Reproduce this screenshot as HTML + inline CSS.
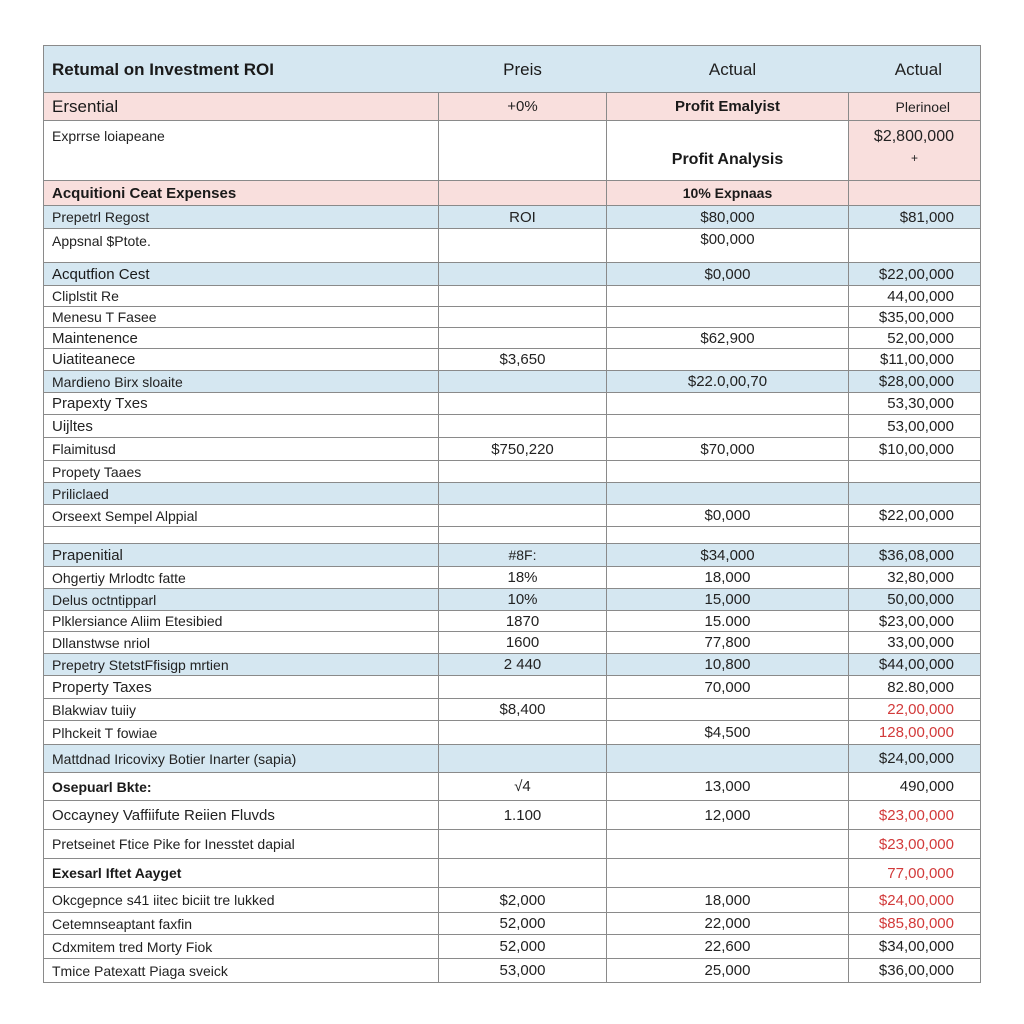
<!DOCTYPE html>
<html><head><meta charset="utf-8"><style>
html,body{margin:0;padding:0;background:#fff;width:1024px;height:1024px;overflow:hidden}
table{position:absolute;left:43px;top:45px;border-collapse:collapse;table-layout:fixed;font-family:"Liberation Sans",sans-serif;font-size:15px;color:#222}
td{border:1px solid #8a8a8a;padding:0;white-space:nowrap;overflow:hidden;line-height:1}
td.a{padding-left:8px;text-align:left}
td.b{text-align:center}
td.c{text-align:center}
td.d{text-align:right;padding-right:26px}
tr.bl td{background:#d5e7f1}
tr.pk td{background:#f9dfdd}
.h td{background:#d5e7f1;font-size:17px;border-left:none;border-right:none}
.h td:first-child{border-left:1px solid #8a8a8a}
.h td:last-child{border-right:1px solid #8a8a8a}
.bo{font-weight:bold;color:#1a1a1a}
.r{color:#d23a3a}
.s{font-size:14px}
</style></head><body>
<table>
<colgroup><col style="width:395px"><col style="width:168px"><col style="width:242px"><col style="width:132px"></colgroup>
<tr class="h" style="height:47px"><td class="a bo">Retumal on Investment ROI</td><td class="b bo" style="font-weight:normal">Preis</td><td class="c" style="padding-left:10px">Actual</td><td class="d" style="padding-right:38px">Actual</td></tr>
<tr class="pk" style="height:28px"><td class="a bo" style="font-size:17px;font-weight:normal">Ersential</td><td class="b">+0%</td><td class="c bo">Profit Emalyist</td><td class="d s" style="padding-right:30px;vertical-align:middle">Plerinoel</td></tr>
<tr style="height:60px"><td class="a s" style="vertical-align:top;padding-top:8px">Exprrse loiapeane</td><td class="b"></td><td class="c bo" style="font-size:16px;vertical-align:bottom;padding-bottom:12px">Profit Analysis</td><td class="d" style="background:#f9dfdd;vertical-align:top;padding-top:8px;padding-right:26px;font-size:16px">$2,800,000<br><span style="font-size:12px;line-height:2.3;padding-right:36px">+</span></td></tr>
<tr class="pk" style="height:25px"><td class="a bo">Acquitioni Ceat Expenses</td><td class="b"></td><td class="c bo s">10% Expnaas</td><td class="d"></td></tr>
<tr class="bl" style="height:23px"><td class="a s">Prepetrl Regost</td><td class="b">ROI</td><td class="c">$80,000</td><td class="d">$81,000</td></tr>
<tr style="height:34px"><td class="a s" style="vertical-align:top;padding-top:5px">Appsnal $Ptote.</td><td class="b"></td><td class="c" style="vertical-align:top;padding-top:3px">$00,000</td><td class="d"></td></tr>
<tr class="bl" style="height:23px"><td class="a bo" style="font-weight:normal">Acqutfion Cest</td><td class="b"></td><td class="c">$0,000</td><td class="d">$22,00,000</td></tr>
<tr style="height:21px"><td class="a s">Cliplstit Re</td><td class="b"></td><td class="c"></td><td class="d">44,00,000</td></tr>
<tr style="height:21px"><td class="a s">Menesu T Fasee</td><td class="b"></td><td class="c"></td><td class="d">$35,00,000</td></tr>
<tr style="height:21px"><td class="a">Maintenence</td><td class="b"></td><td class="c">$62,900</td><td class="d">52,00,000</td></tr>
<tr style="height:22px"><td class="a">Uiatiteanece</td><td class="b">$3,650</td><td class="c"></td><td class="d">$11,00,000</td></tr>
<tr class="bl" style="height:22px"><td class="a s">Mardieno Birx sloaite</td><td class="b"></td><td class="c">$22.0,00,70</td><td class="d">$28,00,000</td></tr>
<tr style="height:22px"><td class="a">Prapexty Txes</td><td class="b"></td><td class="c"></td><td class="d">53,30,000</td></tr>
<tr style="height:23px"><td class="a">Uijltes</td><td class="b"></td><td class="c"></td><td class="d">53,00,000</td></tr>
<tr style="height:23px"><td class="a s">Flaimitusd</td><td class="b">$750,220</td><td class="c">$70,000</td><td class="d">$10,00,000</td></tr>
<tr style="height:22px"><td class="a s">Propety Taaes</td><td class="b"></td><td class="c"></td><td class="d"></td></tr>
<tr class="bl" style="height:22px"><td class="a s">Priliclaed</td><td class="b"></td><td class="c"></td><td class="d"></td></tr>
<tr style="height:22px"><td class="a s">Orseext Sempel Alppial</td><td class="b"></td><td class="c">$0,000</td><td class="d">$22,00,000</td></tr>
<tr style="height:17px"><td class="a"></td><td class="b"></td><td class="c"></td><td class="d"></td></tr>
<tr class="bl" style="height:23px"><td class="a">Prapenitial</td><td class="b s">#8F:</td><td class="c">$34,000</td><td class="d">$36,08,000</td></tr>
<tr style="height:22px"><td class="a s">Ohgertiy Mrlodtc fatte</td><td class="b">18%</td><td class="c">18,000</td><td class="d">32,80,000</td></tr>
<tr class="bl" style="height:22px"><td class="a s">Delus octntipparl</td><td class="b">10%</td><td class="c">15,000</td><td class="d">50,00,000</td></tr>
<tr style="height:21px"><td class="a s">Plklersiance Aliim Etesibied</td><td class="b">1870</td><td class="c">15.000</td><td class="d">$23,00,000</td></tr>
<tr style="height:22px"><td class="a s">Dllanstwse nriol</td><td class="b">1600</td><td class="c">77,800</td><td class="d">33,00,000</td></tr>
<tr class="bl" style="height:22px"><td class="a s">Prepetry StetstFfisigp mrtien</td><td class="b">2 440</td><td class="c">10,800</td><td class="d">$44,00,000</td></tr>
<tr style="height:23px"><td class="a">Property Taxes</td><td class="b"></td><td class="c">70,000</td><td class="d">82.80,000</td></tr>
<tr style="height:22px"><td class="a s">Blakwiav tuiiy</td><td class="b">$8,400</td><td class="c"></td><td class="d r">22,00,000</td></tr>
<tr style="height:24px"><td class="a s">Plhckeit T fowiae</td><td class="b"></td><td class="c">$4,500</td><td class="d r">128,00,000</td></tr>
<tr class="bl" style="height:28px"><td class="a s">Mattdnad Iricovixy Botier Inarter (sapia)</td><td class="b"></td><td class="c"></td><td class="d">$24,00,000</td></tr>
<tr style="height:28px"><td class="a bo s">Osepuarl Bkte:</td><td class="b">√4</td><td class="c">13,000</td><td class="d">490,000</td></tr>
<tr style="height:29px"><td class="a">Occayney Vaffiifute Reiien Fluvds</td><td class="b">1.100</td><td class="c">12,000</td><td class="d r">$23,00,000</td></tr>
<tr style="height:29px"><td class="a s">Pretseinet Ftice Pike for Inesstet dapial</td><td class="b"></td><td class="c"></td><td class="d r">$23,00,000</td></tr>
<tr style="height:29px"><td class="a bo s">Exesarl Iftet Aayget</td><td class="b"></td><td class="c"></td><td class="d r">77,00,000</td></tr>
<tr style="height:25px"><td class="a s">Okcgepnce s41 iitec biciit tre lukked</td><td class="b">$2,000</td><td class="c">18,000</td><td class="d r">$24,00,000</td></tr>
<tr style="height:22px"><td class="a s">Cetemnseaptant faxfin</td><td class="b">52,000</td><td class="c">22,000</td><td class="d r">$85,80,000</td></tr>
<tr style="height:24px"><td class="a s">Cdxmitem tred Morty Fiok</td><td class="b">52,000</td><td class="c">22,600</td><td class="d">$34,00,000</td></tr>
<tr style="height:24px"><td class="a s">Tmice Patexatt Piaga sveick</td><td class="b">53,000</td><td class="c">25,000</td><td class="d">$36,00,000</td></tr>
</table>
</body></html>
